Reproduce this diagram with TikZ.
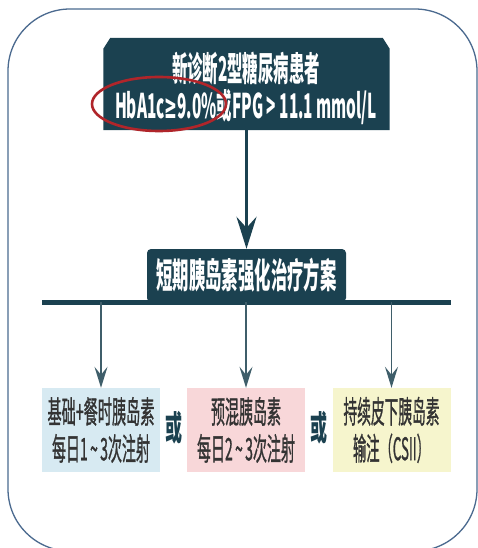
\documentclass[tikz,border=0pt]{standalone}
\usepackage{fontspec}
\usepackage{graphicx}
\newfontfamily\cjk{Noto Sans CJK SC}
\newfontfamily\cjkmed{Noto Sans CJK SC}[FakeBold=1.3]
\newfontfamily\gefont{DejaVu Sans}
\usetikzlibrary{arrows.meta}
\definecolor{boxdark}{HTML}{1B4150}
\definecolor{framecol}{HTML}{4B6A8F}
\definecolor{ringred}{HTML}{B0252A}
\definecolor{stemcol}{HTML}{3F5E6A}
\definecolor{bluebox}{HTML}{D7EAF2}
\definecolor{pinkbox}{HTML}{F8D7D9}
\definecolor{yellowbox}{HTML}{F6F5CD}
\definecolor{optext}{HTML}{333333}
\newcommand{\sqz}[2]{\resizebox{#1}{\height}{#2}}
\tikzset{
  framestyle/.style={draw=framecol, line width=1.3pt, rounded corners=62pt},
  darktext/.style={text=white, inner sep=0pt, font=\cjk\bfseries},
  bigarrow/.style={draw=boxdark, line width=3pt, -{Stealth[length=32pt,width=20pt,inset=11pt]}},
  stemarrow/.style={draw=stemcol, line width=1.6pt, -{Stealth[length=21pt,width=13pt,inset=8pt]}},
  barstyle/.style={draw=boxdark, line width=5pt},
  optbox/.style={minimum width=118pt, minimum height=84pt, inner sep=0pt, align=center,
     text=optext, font=\cjkmed\fontsize{31}{37}\selectfont},
  orword/.style={text=boxdark, inner sep=0pt, font=\cjk\bfseries\fontsize{34}{34}\selectfont},
  ring/.style={draw=ringred, line width=2.6pt}
}
\begin{document}
\begin{tikzpicture}[x=1pt,y=-1pt]
\useasboundingbox (0,0) rectangle (478,548);
\clip (0,0) rectangle (478,548);
\fill[white] (0,0) rectangle (478,548);
\draw[framestyle] (8,9) rectangle (477,551);

% top box
\node[minimum width=286pt, minimum height=92pt, inner sep=0pt] (top) at (246.5,84) {};
\fill[boxdark] ([yshift=-11pt]top.north west) -- ([xshift=7pt]top.north west)
  -- ([xshift=-7pt]top.north east) -- ([yshift=-11pt]top.north east)
  -- (top.south east) -- (top.south west) -- cycle;
\node[darktext] (topA) at (246,69) {\fontsize{34}{34}\selectfont\sqz{148pt}{新诊断2型糖尿病患者}};
\node[darktext] (topB) at (246,107) {\fontsize{34}{34}\selectfont\sqz{262pt}{HbA1c{\gefont\bfseries ≥}9.0\%或FPG > 11.1 mmol/L}};
\draw[ring] (159,104) ellipse [x radius=67pt, y radius=27pt];

% middle box
\node[fill=boxdark, rounded corners=4pt, minimum width=199pt, minimum height=53pt, inner sep=0pt,
  text=white, font=\cjk\bfseries\fontsize{35}{35}\selectfont] (mid) at (246.5,275.5)
  {\sqz{180pt}{短期胰岛素强化治疗方案}};
\draw[bigarrow] (top.south) -- (mid.north);

% bar
\coordinate (barL) at (42,302);
\coordinate (barR) at (451,302);
\draw[barstyle] (barL) -- (barR);

% option boxes
\node[optbox, fill=bluebox] (o1) at (101,430)
  {\sqz{107pt}{基础+餐时胰岛素}\\\sqz{98pt}{每日1\,\textasciitilde\,3次注射}};
\node[optbox, fill=pinkbox] (o2) at (246,430)
  {\sqz{70pt}{预混胰岛素}\\\sqz{98pt}{每日2\,\textasciitilde\,3次注射}};
\node[optbox, fill=yellowbox] (o3) at (391.5,430)
  {\sqz{96pt}{持续皮下胰岛素}\\\sqz{77pt}{输注（CSII）}};

\coordinate (s1) at (101,302);
\coordinate (s2) at (246,302);
\coordinate (s3) at (391.5,302);
\draw[stemarrow] (s1) -- (o1.north);
\draw[stemarrow] (s2) -- (o2.north);
\draw[stemarrow] (s3) -- (o3.north);

\node[orword] (or1) at (173.5,428) {\sqz{17pt}{或}};
\node[orword] (or2) at (318.5,428) {\sqz{17pt}{或}};
\end{tikzpicture}
\end{document}
